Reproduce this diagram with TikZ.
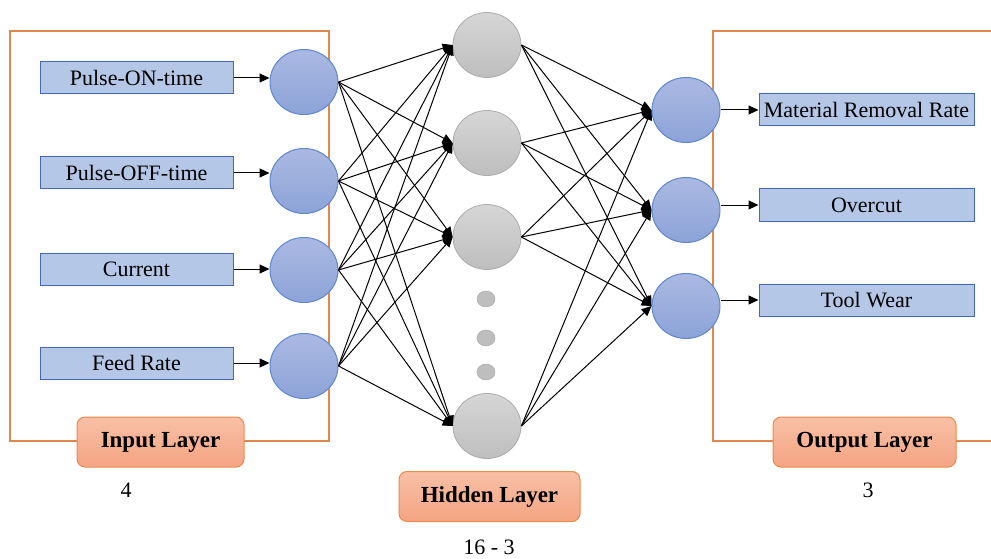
\documentclass[tikz,border=0pt]{standalone}
\usepackage{fontspec}
\setmainfont{Liberation Serif}
\usetikzlibrary{arrows.meta, shapes.geometric}
\definecolor{boxblue}{RGB}{180, 199, 231}
\definecolor{boxedge}{RGB}{68, 105, 180}
\definecolor{neurontop}{RGB}{170, 185, 226}
\definecolor{neuronbot}{RGB}{140, 163, 216}
\definecolor{neuronedge}{RGB}{95, 135, 208}
\definecolor{hiddentop}{RGB}{214, 214, 214}
\definecolor{hiddenbot}{RGB}{190, 190, 190}
\definecolor{hiddenedge}{RGB}{172, 172, 172}
\definecolor{labeltop}{RGB}{248, 192, 166}
\definecolor{labelbot}{RGB}{244, 164, 130}
\definecolor{labeledge}{RGB}{237, 137, 75}
\definecolor{frameorange}{RGB}{224, 135, 79}

\begin{document}
\begin{tikzpicture}[x=1pt, y=-1pt, >={Triangle[length=10pt, width=9pt]},
    varbox/.style={draw=boxedge, fill=boxblue, line width=1pt, minimum height=32pt,
        inner sep=0pt, font=\fontsize{22}{26}\selectfont},
    neuron/.style={ellipse, draw=neuronedge, line width=1pt, top color=neurontop,
        bottom color=neuronbot, minimum width=68pt, minimum height=65pt, inner sep=0pt},
    hidden/.style={ellipse, draw=hiddenedge, line width=0.8pt, top color=hiddentop,
        bottom color=hiddenbot, minimum width=68pt, minimum height=65pt, inner sep=0pt},
    dotnode/.style={ellipse, fill=hiddenbot, draw=hiddenedge, line width=0.5pt,
        minimum width=18pt, minimum height=16pt, inner sep=0pt},
    layerlabel/.style={draw=labeledge, line width=1pt, rounded corners=8pt,
        top color=labeltop, bottom color=labelbot, minimum height=50pt,
        inner sep=0pt, font=\fontsize{23}{27}\selectfont\bfseries},
    count/.style={inner sep=0pt, font=\fontsize{22}{26}\selectfont},
    link/.style={->, line width=1pt}]
    \useasboundingbox (0,0) rectangle (991,559);

    % Frames
    \draw[frameorange, line width=1.5pt] (10,31) rectangle (329,441);
    \draw[frameorange, line width=1.5pt] (991,31) -- (713,31) -- (713,441) -- (991,441);

    % Inputs
    \node[varbox, minimum width=193pt] (in1) at (136.5,78) {Pulse-ON-time};
    \node[varbox, minimum width=193pt] (in2) at (136.5,173) {Pulse-OFF-time};
    \node[varbox, minimum width=193pt] (in3) at (136.5,269) {Current};
    \node[varbox, minimum width=193pt] (in4) at (136.5,363) {Feed Rate};

    \node[neuron] (i1) at (304,82) {};
    \node[neuron] (i2) at (304,181) {};
    \node[neuron] (i3) at (304,270) {};
    \node[neuron] (i4) at (304,366) {};

    % Hidden layer
    \node[hidden] (h1) at (487,45) {};
    \node[hidden] (h2) at (487,143) {};
    \node[hidden] (h3) at (487,237) {};
    \node[hidden] (h4) at (487,426) {};
    \node[dotnode] (d1) at (486,299) {};
    \node[dotnode] (d2) at (486,338) {};
    \node[dotnode] (d3) at (486,372) {};

    % Outputs
    \node[neuron] (o1) at (686,110) {};
    \node[neuron] (o2) at (686,210) {};
    \node[neuron] (o3) at (686,306) {};

    \node[varbox, minimum width=215pt] (out1) at (866.5,110) {Material Removal Rate};
    \node[varbox, minimum width=215pt] (out2) at (866.5,205) {Overcut};
    \node[varbox, minimum width=215pt] (out3) at (866.5,300) {Tool Wear};

    % Connections
    \foreach \k in {1,...,4}
        \draw[link] (in\k.east) -- (in\k.east -| i\k.west);
    \foreach \a in {1,...,4}
        \foreach \b in {1,...,4}
            \draw[link] (i\a.east) -- (h\b.west);
    \foreach \a in {1,...,4}
        \foreach \b in {1,...,3}
            \draw[link] (h\a.east) -- (o\b.west);
    \foreach \k in {1,...,3}
        \draw[link] (out\k.west -| o\k.east) -- (out\k.west);

    % Layer labels
    \node[layerlabel, minimum width=167pt] (inlabel) at (160.5,442) {Input Layer};
    \node[layerlabel, minimum width=181pt] (hidlabel) at (489.5,496.5) {Hidden Layer};
    \node[layerlabel, minimum width=183pt] (outlabel) at (864.5,442) {Output Layer};
    \node[count] (incount) at (126,490) {4};
    \node[count] (hidcount) at (489,547) {16 - 3};
    \node[count] (outcount) at (868,490) {3};
\end{tikzpicture}
\end{document}
